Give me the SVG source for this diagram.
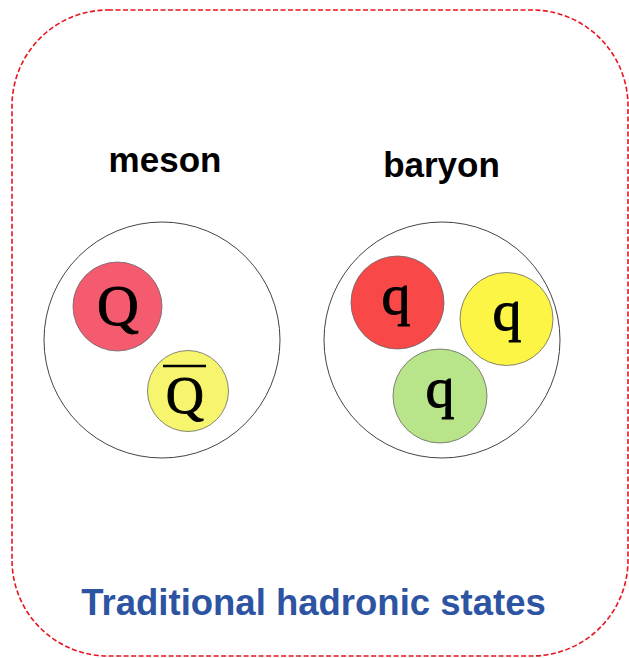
<svg xmlns="http://www.w3.org/2000/svg" width="629" height="658" viewBox="0 0 629 658">
<style>
.lbl{font-family:"Liberation Sans",Arial,sans-serif;font-weight:bold;font-size:35px;fill:#000;text-anchor:middle}
.hadron{fill:#fff;stroke:#444;stroke-width:1}
.quark{stroke:#666;stroke-width:0.8}
.qt{font-family:"Liberation Serif","Times New Roman",serif;font-size:58px;fill:#000;stroke:#000;stroke-width:0.9;text-anchor:middle}
.title{font-family:"Liberation Sans",Arial,sans-serif;font-weight:bold;font-size:36.5px;fill:#2d54a3;text-anchor:middle}
</style>
<rect x="12" y="10" width="616" height="646" rx="96" ry="96" fill="#fff" stroke="#e8141e" stroke-width="1.6" stroke-dasharray="5,2.5"/>
<g id="meson">
<text class="lbl" x="165" y="172">meson</text>
<circle class="hadron" cx="162" cy="340" r="118"/>
<g id="quark-Q">
<circle class="quark" cx="117.5" cy="306.5" r="44.5" fill="#f45b6f"/>
<text class="qt" x="118" y="325">Q</text>
</g>
<g id="antiquark-Q">
<circle class="quark" cx="188" cy="391" r="40.5" fill="#f7f46e"/>
<text class="qt" x="185" y="413" style="font-size:53px">Q</text>
<line x1="163" y1="366" x2="206" y2="366" stroke="#000" stroke-width="2.5"/>
</g>
</g>
<g id="baryon">
<text class="lbl" x="441.5" y="177">baryon</text>
<circle class="hadron" cx="442" cy="340" r="118"/>
<g id="quark-red">
<circle class="quark" cx="397.5" cy="302.5" r="46.5" fill="#f84848"/>
<text class="qt" x="396" y="314">q</text>
</g>
<g id="quark-yellow">
<circle class="quark" cx="506.5" cy="319" r="46.5" fill="#fdf545"/>
<text class="qt" x="507" y="330">q</text>
</g>
<g id="quark-green">
<circle class="quark" cx="440" cy="396" r="47" fill="#b9e58a"/>
<text class="qt" x="440" y="407">q</text>
</g>
</g>
<g id="connectors"/>
<text class="title" x="313.5" y="615">Traditional hadronic states</text>
</svg>
